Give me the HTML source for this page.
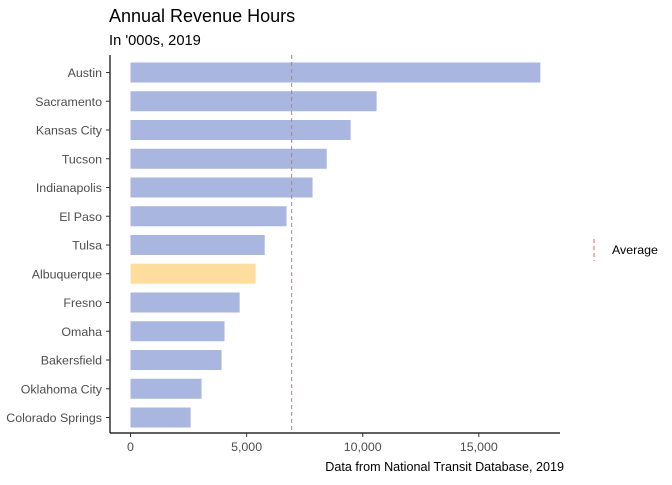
<!DOCTYPE html>
<html><head><meta charset="utf-8"><style>
body{margin:0;background:#fff;font-family:"Liberation Sans",sans-serif}
text{font-family:"Liberation Sans",sans-serif}
</style></head><body>
<svg id="c" width="672" height="480">
<text x="109" y="22" font-size="18" fill="#000">Annual Revenue Hours</text>
<text x="109" y="45" font-size="14.7" fill="#000">In '000s, 2019</text>
<text x="564" y="471" font-size="12.6" fill="#000" text-anchor="end">Data from National Transit Database, 2019</text>
<g id="bars"></g>
<line x1="110" y1="55" x2="110" y2="433" stroke="#000" stroke-width="1.2"/>
<line x1="110" y1="433" x2="560" y2="433" stroke="#000" stroke-width="1.2"/>
<line x1="594" y1="239" x2="594" y2="261" stroke="#F8766D" stroke-width="1.2" stroke-dasharray="4,3"/>
<text x="612" y="254" font-size="12.4" fill="#000">Average</text>
</svg>
<script>
const cities=["Austin","Sacramento","Kansas City","Tucson","Indianapolis","El Paso","Tulsa","Albuquerque","Fresno","Omaha","Bakersfield","Oklahoma City","Colorado Springs"];
const hours=[17650,10600,9480,8450,7840,6720,5780,5390,4700,4050,3920,3060,2590];
const highlight="Albuquerque";
const averageValue=6940;
const xTicks=[0,5000,10000,15000];
const xTickLabels=["0","5,000","10,000","15,000"];
const NS="http://www.w3.org/2000/svg";
const svg=document.getElementById('c');
const g=document.getElementById('bars');
const x=v=>130.5+v*0.02322;
const y=i=>72.5+i*28.75;
function mk(t,a){const e=document.createElementNS(NS,t);for(const k in a)e.setAttribute(k,a[k]);return e;}
cities.forEach((c,i)=>{
 const r=mk('rect',{x:x(0),y:y(i)-10,width:x(hours[i])-x(0),height:20,fill:c===highlight?'#FFDD9E':'#A9B7E0'});
 
 
 g.appendChild(r);
 const t=mk('text',{x:102,y:y(i)+4.5,'font-size':12.4,fill:'#4d4d4d','text-anchor':'end'});
 t.textContent=c;
 
 
 svg.appendChild(t);
 const tk=mk('line',{x1:106,x2:110,y1:y(i),y2:y(i),stroke:'#333'});
 
 
 svg.appendChild(tk);
});
xTicks.forEach((v,i)=>{
 const tk=mk('line',{x1:x(v),x2:x(v),y1:433,y2:437,stroke:'#333'});
 
 
 svg.appendChild(tk);
 const t=mk('text',{x:x(v),y:451,'font-size':12.4,fill:'#4d4d4d','text-anchor':'middle'});
 t.textContent=xTickLabels[i];
 
 
 svg.appendChild(t);
});
const av=mk('line',{x1:x(averageValue),x2:x(averageValue),y1:55,y2:433,stroke:'#A08888','stroke-dasharray':'4,3'});


svg.appendChild(av);
</script>
</body></html>
